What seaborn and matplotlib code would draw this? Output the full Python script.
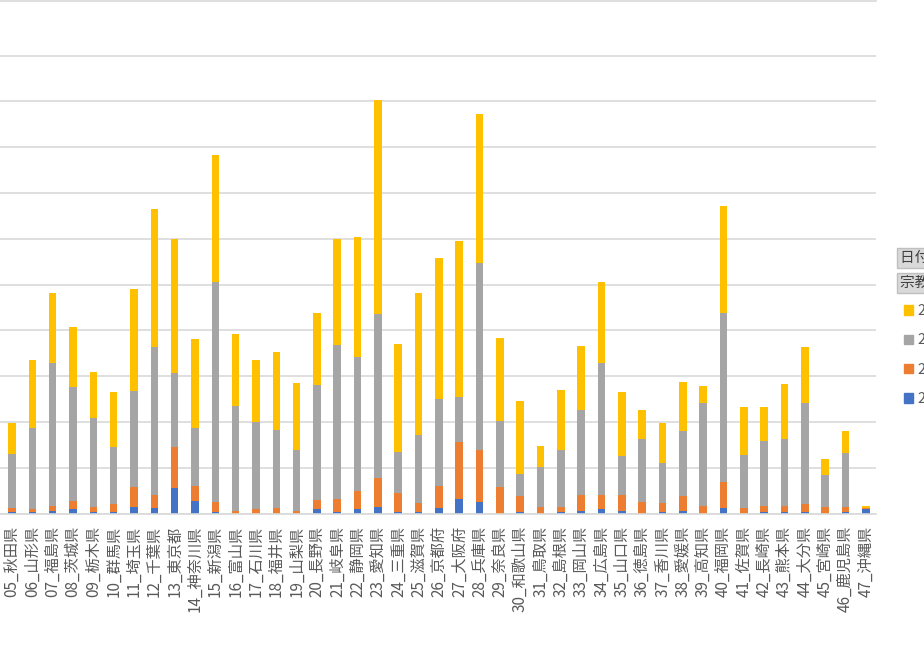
import numpy as np
import pandas as pd
import matplotlib
matplotlib.use("Agg")
import matplotlib.pyplot as plt
import matplotlib.patches as mpatches
import seaborn as sns

prefectures = ["05_秋田県", "06_山形県", "07_福島県", "08_茨城県", "09_栃木県", "10_群馬県",
               "11_埼玉県", "12_千葉県", "13_東京都", "14_神奈川県", "15_新潟県", "16_富山県",
               "17_石川県", "18_福井県", "19_山梨県", "20_長野県", "21_岐阜県", "22_静岡県",
               "23_愛知県", "24_三重県", "25_滋賀県", "26_京都府", "27_大阪府", "28_兵庫県",
               "29_奈良県", "30_和歌山県", "31_鳥取県", "32_島根県", "33_岡山県", "34_広島県",
               "35_山口県", "36_徳島県", "37_香川県", "38_愛媛県", "39_高知県", "40_福岡県",
               "41_佐賀県", "42_長崎県", "43_熊本県", "44_大分県", "45_宮崎県", "46_鹿児島県",
               "47_沖縄県"]

# series, bottom to top of each stack
blue = [3, 3, 5, 10, 4, 3, 14, 12, 55, 27, 3, 0, 0, 0, 0, 9, 4, 9, 15, 4, 3, 12, 32, 26,
        0, 4, 0, 3, 5, 9, 5, 0, 4, 5, 0, 12, 0, 4, 4, 4, 0, 4, 9]
orange = [10, 6, 12, 17, 10, 17, 44, 28, 90, 34, 23, 5, 9, 12, 5, 20, 28, 40, 63, 40, 20, 49,
          125, 112, 58, 34, 15, 11, 35, 31, 35, 26, 19, 33, 17, 57, 12, 13, 13, 17, 14, 10, 3]
gray = [117, 177, 311, 249, 194, 125, 209, 323, 161, 125, 480, 230, 191, 171, 133, 252, 336,
        293, 357, 90, 148, 189, 98, 408, 145, 49, 86, 124, 186, 288, 85, 137, 88, 142, 224,
        369, 115, 142, 146, 220, 70, 119, 0]
yellow = [68, 150, 154, 131, 102, 120, 224, 302, 293, 194, 277, 157, 136, 169, 148, 157, 231,
          261, 467, 235, 311, 308, 340, 327, 180, 159, 47, 131, 140, 177, 141, 63, 87, 107, 38,
          233, 105, 74, 119, 122, 35, 47, 5]

series_names = ["2020", "2021", "2022", "2023"]
series_colors = ["#4472C4", "#ED7D31", "#A5A5A5", "#FFC000"]

sns.set_style("white")
plt.rcParams["font.family"] = ["Noto Sans CJK JP", "DejaVu Sans"]

df = pd.DataFrame({"pref": prefectures, "b": blue, "o": orange, "g": gray, "y": yellow})
df["c1"] = df["b"]
df["c2"] = df["c1"] + df["o"]
df["c3"] = df["c2"] + df["g"]
df["c4"] = df["c3"] + df["y"]

W, H = 924, 660
fig = plt.figure(figsize=(W / 100, H / 100), dpi=100)
# plot area runs past the left edge of the picture (cropped like the reference)
left_px, right_px, base_px, top_px = -79.5, 876, 513.5, 1
ax = fig.add_axes([left_px / W, (H - base_px) / H,
                   (right_px - left_px) / W, (base_px - top_px) / H])

# draw cumulative stacks from the top layer down
for col, color in zip(["c4", "c3", "c2", "c1"], series_colors[::-1]):
    sns.barplot(data=df, x="pref", y=col, color=color, saturation=1, width=0.37,
                order=prefectures, ax=ax, linewidth=0)

ax.set_xlim(-4.5, len(prefectures) - 0.5)
ax.set_ylim(0, (base_px - top_px) * 100 / 45.8)
ax.set_yticks(np.arange(0, 1001, 100))
ax.yaxis.grid(True, color="#D9D9D9", linewidth=1.2)
ax.set_axisbelow(True)
ax.set_xlabel("")
ax.set_ylabel("")
for s in ["left", "right"]:
    ax.spines[s].set_visible(False)
for s in ["bottom", "top"]:
    ax.spines[s].set_color("#D9D9D9")
    ax.spines[s].set_linewidth(1.2)
ax.tick_params(axis="both", length=0, colors="#595959", labelsize=11)
ax.tick_params(axis="y", labelleft=False)
ax.tick_params(axis="x", pad=9)
plt.setp(ax.get_xticklabels(), rotation=90, ha="center", va="top")

# pivot field buttons
for txt, ypx in [("日付 ▼", 258), ("宗教系統 ▼", 283)]:
    fig.text(900 / W, 1 - ypx / H, txt, fontsize=10.5, color="#404040", va="center", ha="left",
             bbox=dict(boxstyle="square,pad=0.2", facecolor="#D9D9D9", edgecolor="#BFBFBF"))

handles = [mpatches.Patch(color=c, label=n) for c, n in zip(series_colors, series_names)][::-1]
fig.legend(handles=handles, loc="upper left", bbox_to_anchor=(891 / W, 1 - 291 / H),
           frameon=False, fontsize=10.5, handlelength=0.6, handleheight=0.6,
           handletextpad=0.3, labelspacing=1.05, labelcolor="#595959")

fig.savefig("out.png", dpi=100)
